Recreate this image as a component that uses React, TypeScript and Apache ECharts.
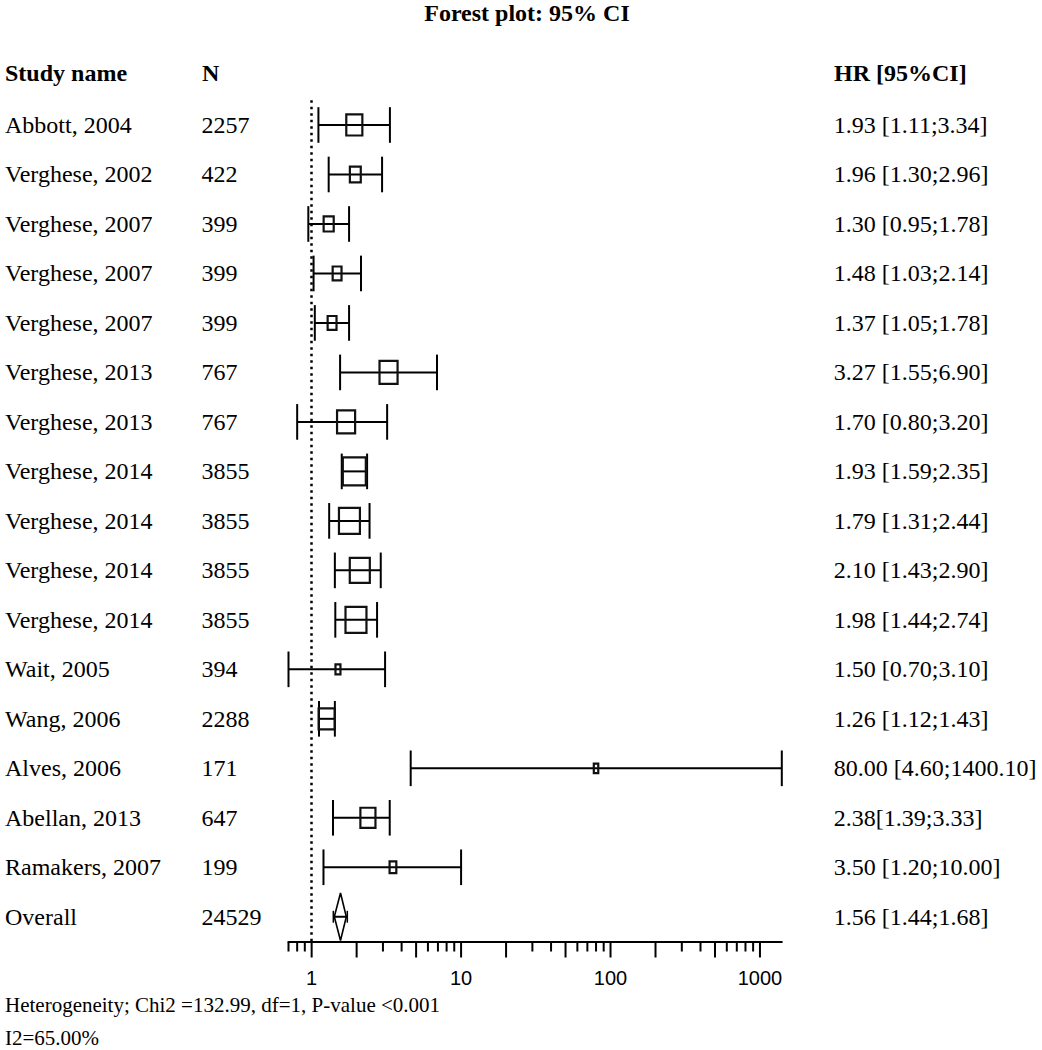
import React, { useEffect, useRef } from 'react';
import * as echarts from 'echarts';

// ---------- data ----------
const studyNames = [
  'Abbott, 2004', 'Verghese, 2002', 'Verghese, 2007', 'Verghese, 2007', 'Verghese, 2007',
  'Verghese, 2013', 'Verghese, 2013', 'Verghese, 2014', 'Verghese, 2014', 'Verghese, 2014',
  'Verghese, 2014', 'Wait, 2005', 'Wang, 2006', 'Alves, 2006', 'Abellan, 2013', 'Ramakers, 2007',
];
const sampleSizes = [2257, 422, 399, 399, 399, 767, 767, 3855, 3855, 3855, 3855, 394, 2288, 171, 647, 199];
const hazardRatios = [1.93, 1.96, 1.30, 1.48, 1.37, 3.27, 1.70, 1.93, 1.79, 2.10, 1.98, 1.50, 1.26, 80.00, 2.38, 3.50];
const ciLower = [1.11, 1.30, 0.95, 1.03, 1.05, 1.55, 0.80, 1.59, 1.31, 1.43, 1.44, 0.70, 1.12, 4.60, 1.39, 1.20];
const ciUpper = [3.34, 2.96, 1.78, 2.14, 1.78, 6.90, 3.20, 2.35, 2.44, 2.90, 2.74, 3.10, 1.43, 1400.10, 3.33, 10.00];
const hrLabels = [
  '1.93 [1.11;3.34]', '1.96 [1.30;2.96]', '1.30 [0.95;1.78]', '1.48 [1.03;2.14]', '1.37 [1.05;1.78]',
  '3.27 [1.55;6.90]', '1.70 [0.80;3.20]', '1.93 [1.59;2.35]', '1.79 [1.31;2.44]', '2.10 [1.43;2.90]',
  '1.98 [1.44;2.74]', '1.50 [0.70;3.10]', '1.26 [1.12;1.43]', '80.00 [4.60;1400.10]', '2.38[1.39;3.33]',
  '3.50 [1.20;10.00]',
];
// study weights (%)
const studyWeights = [4.7, 2.4, 2.1, 1.7, 1.7, 5.8, 5.8, 9.0, 7.6, 7.0, 7.6, 0.7, 4.7, 0.6, 4.2, 1.1];

const overallName = 'Overall';
const overallN = 24529;
const overallHR = 1.56;
const overallLower = 1.44;
const overallUpper = 1.68;
const overallLabel = '1.56 [1.44;1.68]';

const majorTicks = [1, 2, 5, 10, 20, 50, 100, 200, 500, 1000];
const minorTicks = [0.7, 0.8, 0.9, 3, 4, 6, 7, 8, 9, 30, 40, 60, 70, 80, 90, 300, 400, 600, 700, 800, 900];
const tickLabels = [1, 10, 100, 1000];
const axisMin = 0.7;
const axisMax = 1400.1;

const titleText = 'Forest plot: 95% CI';
const headerStudy = 'Study name';
const headerN = 'N';
const headerHR = 'HR [95%CI]';
const footLine1 = 'Heterogeneity; Chi2 =132.99, df=1, P-value <0.001';
const footLine2 = 'I2=65.00%';

// ---------- chart ----------
const SERIF = "'Liberation Serif', 'Times New Roman', serif";
const SANS = "'Liberation Sans', Arial, sans-serif";

export default function App() {
  const ref = useRef<HTMLDivElement>(null);

  useEffect(() => {
    if (!ref.current) return;
    const chart = echarts.init(ref.current, undefined, { renderer: 'svg' });

    const rowNames = [...studyNames, overallName];
    const rowN = [...sampleSizes, overallN].map(String);
    const rowHR = [...hrLabels, overallLabel];
    const nRows = rowNames.length;

    const studyData = studyNames.map((_, i) => [i, hazardRatios[i], ciLower[i], ciUpper[i], studyWeights[i]]);
    const overallData = [[nRows - 1, overallHR, overallLower, overallUpper]];
    const tickData = [
      ...majorTicks.map((v) => [v, 0, 1]),
      ...minorTicks.map((v) => [v, 0, 0]),
    ];

    const yBase = {
      type: 'category' as const,
      inverse: true,
      axisLine: { show: false },
      axisTick: { show: false },
      splitLine: { show: false },
    };
    const labelBase = {
      show: true,
      interval: 0,
      color: '#000',
      fontFamily: SERIF,
      fontSize: 24,
      align: 'left' as const,
    };
    const txt = (text: string, x: number, y: number, font: string, align = 'left') => ({
      type: 'text',
      x,
      y,
      style: { text, font, fill: '#000', align, verticalAlign: 'middle', textAlign: align, textVerticalAlign: 'middle' },
    });

    const option: any = {
      animation: false,
      backgroundColor: '#fff',
      grid: {
        left: 288.5,
        right: 260.2,
        top: 100.25,
        bottom: 108.5,
        containLabel: false,
        outerBoundsMode: 'none',
      },
      xAxis: {
        type: 'log',
        logBase: 10,
        min: axisMin,
        max: axisMax,
        axisLine: { show: true, lineStyle: { color: '#000', width: 2 } },
        axisTick: { show: false },
        splitLine: { show: false },
        axisLabel: {
          show: true,
          showMinLabel: false,
          showMaxLabel: false,
          margin: 26,
          color: '#000',
          fontFamily: SANS,
          fontSize: 20,
          formatter: (v: number) => (tickLabels.some((t) => Math.abs(t - v) < 1e-6) ? String(Math.round(v)) : ''),
        },
      },
      yAxis: [
        { ...yBase, position: 'left', data: rowNames, axisLabel: { ...labelBase, margin: 283.5 } },
        { ...yBase, position: 'left', data: rowN, axisLabel: { ...labelBase, margin: 87 } },
        { ...yBase, position: 'right', data: rowHR, axisLabel: { ...labelBase, margin: 52 } },
      ],
      graphic: [
        txt(titleText, 527, 13, `bold 24px ${SERIF}`, 'center'),
        txt(headerStudy, 5, 73, `bold 24px ${SERIF}`),
        txt(headerN, 202, 73, `bold 24px ${SERIF}`),
        txt(headerHR, 834, 73, `bold 24px ${SERIF}`),
        txt(footLine1, 5, 1005, `21px ${SERIF}`),
        txt(footLine2, 5, 1038, `21px ${SERIF}`),
      ],
      series: [
        {
          type: 'custom',
          name: 'studies',
          xAxisIndex: 0,
          yAxisIndex: 0,
          data: studyData,
          encode: { x: [1, 2, 3], y: 0 },
          clip: false,
          renderItem: (params: any, api: any) => {
            const i = api.value(0);
            const est = api.value(1);
            const lo = api.value(2);
            const hi = api.value(3);
            const w = api.value(4);
            const band = params.coordSys.height / nRows;
            const pc = api.coord([est, i]);
            const pl = api.coord([lo, i]);
            const ph = api.coord([hi, i]);
            const cap = band * 0.36;
            const size = 8.33 * Math.sqrt(w);
            const bw = Math.max(size - 2, 4);
            const bh = Math.max(size + 3, 6);
            const stroke = { stroke: '#000', lineWidth: 2, fill: null };
            return {
              type: 'group',
              children: [
                { type: 'line', shape: { x1: pl[0], y1: pc[1], x2: ph[0], y2: pc[1] }, style: stroke },
                { type: 'line', shape: { x1: pl[0], y1: pc[1] - cap, x2: pl[0], y2: pc[1] + cap }, style: stroke },
                { type: 'line', shape: { x1: ph[0], y1: pc[1] - cap, x2: ph[0], y2: pc[1] + cap }, style: stroke },
                { type: 'rect', shape: { x: pc[0] - bw / 2, y: pc[1] - bh / 2, width: bw, height: bh }, style: { stroke: '#111', lineWidth: 2.2, fill: 'none' } },
              ],
            };
          },
          markLine: {
            silent: true,
            symbol: ['none', 'none'],
            label: { show: false },
            lineStyle: { color: '#000', width: 2.5, type: [2.5, 4] },
            data: [{ xAxis: 1 }],
          },
        },
        {
          type: 'custom',
          name: 'overall',
          xAxisIndex: 0,
          yAxisIndex: 0,
          data: overallData,
          encode: { x: [1, 2, 3], y: 0 },
          clip: false,
          renderItem: (params: any, api: any) => {
            const i = api.value(0);
            const band = params.coordSys.height / nRows;
            const pc = api.coord([api.value(1), i]);
            const pl = api.coord([api.value(2), i]);
            const ph = api.coord([api.value(3), i]);
            const half = band * 0.48;
            const cap = band * 0.12;
            const stroke = { stroke: '#000', lineWidth: 1.6, fill: 'none' };
            return {
              type: 'group',
              children: [
                {
                  type: 'polygon',
                  shape: { points: [[pc[0], pc[1] - half], [ph[0] + 1, pc[1]], [pc[0], pc[1] + half], [pl[0] - 1, pc[1]]] },
                  style: stroke,
                },
                { type: 'line', shape: { x1: pl[0] - 2, y1: pc[1], x2: ph[0] + 2, y2: pc[1] }, style: { stroke: '#000', lineWidth: 2 } },
                { type: 'line', shape: { x1: pl[0] - 2, y1: pc[1] - cap, x2: pl[0] - 2, y2: pc[1] + cap }, style: { stroke: '#000', lineWidth: 1.5 } },
                { type: 'line', shape: { x1: ph[0] + 2, y1: pc[1] - cap, x2: ph[0] + 2, y2: pc[1] + cap }, style: { stroke: '#000', lineWidth: 1.5 } },
              ],
            };
          },
        },
        {
          type: 'custom',
          name: 'ticks',
          xAxisIndex: 0,
          yAxisIndex: 0,
          data: tickData,
          encode: { x: 0, y: 1 },
          clip: false,
          silent: true,
          renderItem: (params: any, api: any) => {
            const p = api.coord([api.value(0), 0]);
            const yb = params.coordSys.y + params.coordSys.height;
            const len = api.value(2) === 1 ? 16 : 10;
            return {
              type: 'line',
              shape: { x1: p[0], y1: yb, x2: p[0], y2: yb + len },
              style: { stroke: '#000', lineWidth: 2 },
            };
          },
        },
      ],
    };

    chart.setOption(option);
    return () => {
      chart.dispose();
    };
  }, []);

  return (
    <div
      ref={ref}
      style={{ position: 'absolute', left: 0, top: 0, width: 1042, height: 1050, background: '#fff' }}
    />
  );
}
